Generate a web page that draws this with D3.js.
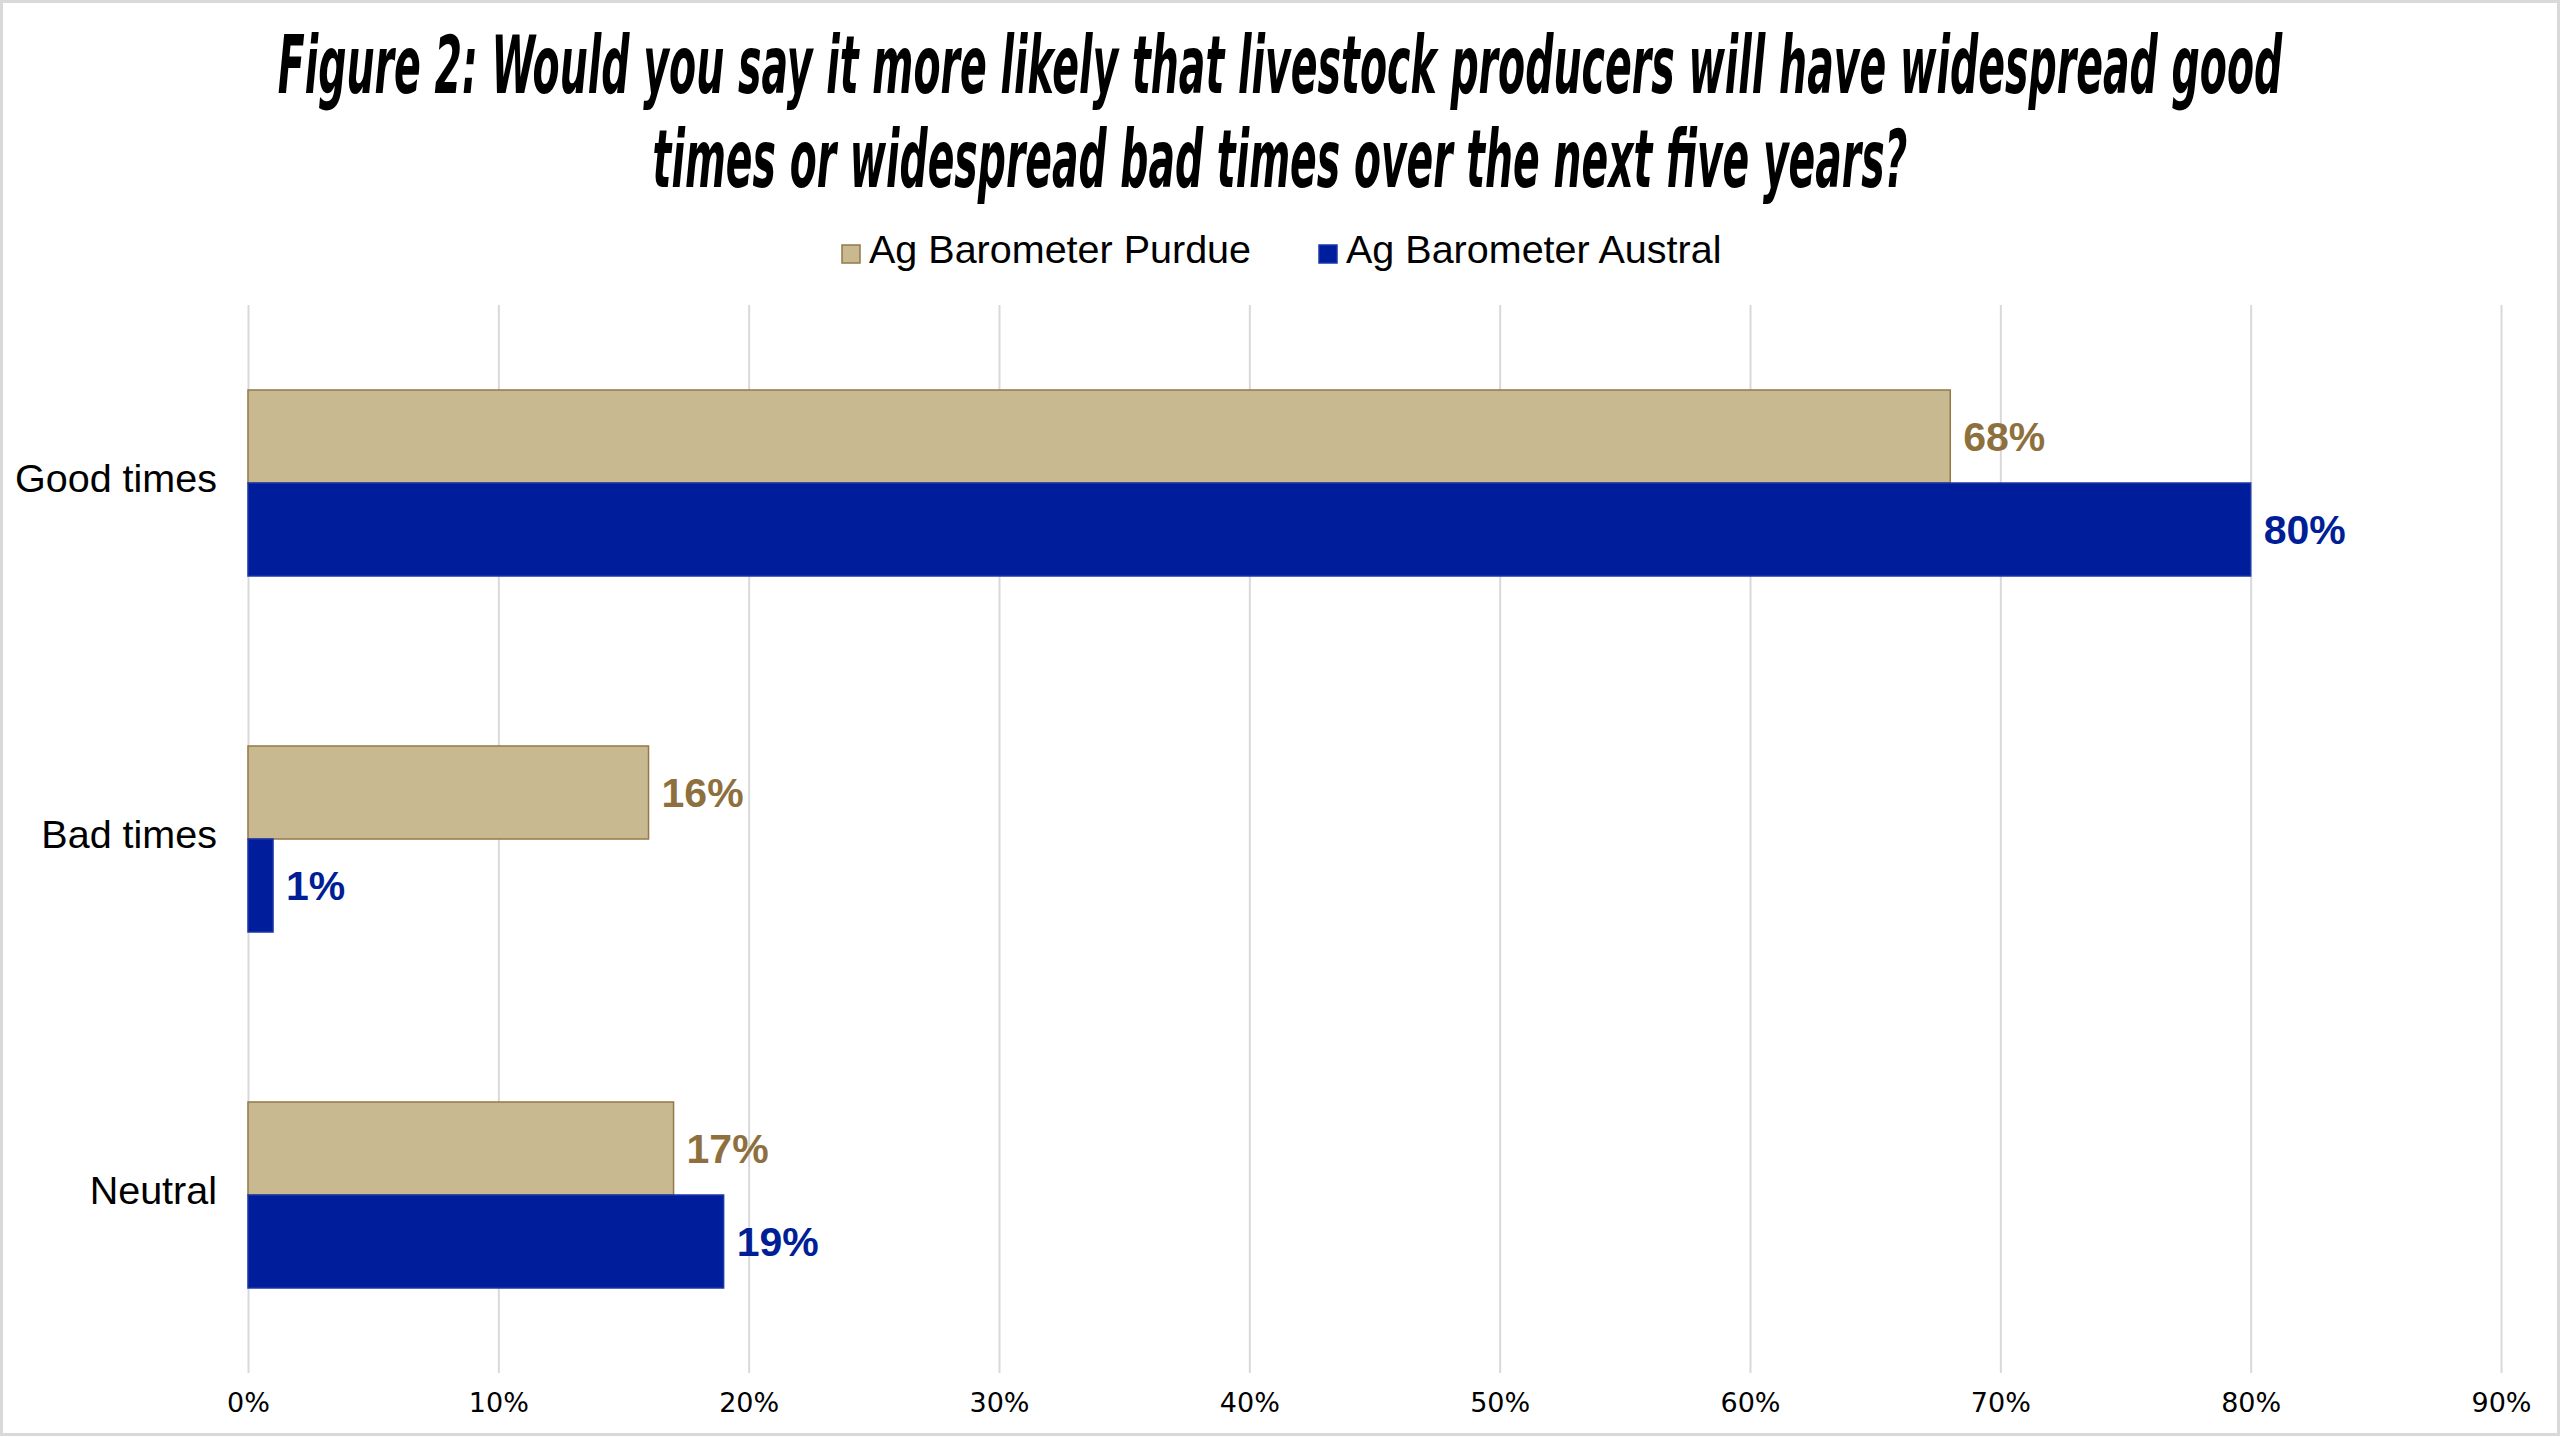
<!DOCTYPE html>
<html>
<head>
<meta charset="utf-8">
<script src="https://cdn.jsdelivr.net/npm/d3@7"></script>
<style>
  html, body { margin: 0; padding: 0; background: #fff; }
  svg { display: block; }
</style>
</head>
<body>
<svg id="chart" width="2560" height="1438"></svg>
<script>
// ---- data ----
const categories = ["Good times", "Bad times", "Neutral"];
const seriesNames = ["Ag Barometer Purdue", "Ag Barometer Austral"];
const purdueValues = [0.68, 0.16, 0.17];
const australValues = [0.80, 0.01, 0.19];
const xTicks = [0, 0.1, 0.2, 0.3, 0.4, 0.5, 0.6, 0.7, 0.8, 0.9];
const titleLines = [
  "Figure 2: Would you say it more likely that livestock producers will have widespread good",
  "times or widespread bad times over the next five years?"
];

const seriesValues = [purdueValues, australValues];
const fills = ["#C9B990", "#001E9C"];
const strokes = ["#94784A", "#1A36A8"];
const labelColors = ["#8E6F3E", "#001E96"];

const W = 2560, H = 1438;
const svg = d3.select("#chart");

// frame
svg.append("rect")
  .attr("x", 1.5).attr("y", 1.5)
  .attr("width", W - 3).attr("height", H - 5)
  .attr("fill", "#fff").attr("stroke", "#D9D9D9").attr("stroke-width", 3);

// scales
const plotTop = 305, plotBottom = 1373;
const x = d3.scaleLinear().domain([0, 0.9]).range([248, 2501]);
const y = d3.scaleBand().domain(categories).range([plotTop, plotBottom]).paddingInner(0).paddingOuter(0);
const ySub = d3.scaleBand().domain(seriesNames).range([0, y.bandwidth()]).paddingInner(0).paddingOuter(0.914);
const fmt = d3.format(".0%");

// gridlines + x axis labels
const xAxis = d3.axisBottom(x).tickValues(xTicks).tickFormat(fmt)
  .tickSizeInner(-(plotBottom - plotTop)).tickSizeOuter(0).tickPadding(20);
const gx = svg.append("g").attr("transform", `translate(0,${plotBottom})`).call(xAxis);
gx.select(".domain").remove();
gx.selectAll(".tick line").attr("stroke", "#D9D9D9").attr("stroke-width", 2);
gx.selectAll(".tick text")
  .attr("font-family", "'DejaVu Sans', sans-serif")
  .attr("font-size", 27)
  .attr("fill", "#000")
  .attr("dy", null)
  .attr("y", 39);

// y category labels
const gy = svg.append("g");
gy.selectAll("text").data(categories).join("text")
  .attr("x", 217)
  .attr("y", d => y(d) + y.bandwidth() / 2)
  .attr("dy", "0.22em")
  .attr("text-anchor", "end")
  .attr("font-family", "'Liberation Sans', Arial, sans-serif")
  .attr("font-size", 39.5)
  .attr("fill", "#000")
  .text(d => d);

// bars
const rows = [];
categories.forEach((c, i) => {
  seriesNames.forEach((s, j) => rows.push({ cat: c, ser: s, j, v: seriesValues[j][i] }));
});

svg.append("g").selectAll("rect").data(rows).join("rect")
  .attr("x", x(0))
  .attr("y", d => y(d.cat) + ySub(d.ser))
  .attr("width", d => x(d.v) - x(0))
  .attr("height", ySub.bandwidth())
  .attr("fill", d => fills[d.j])
  .attr("stroke", d => strokes[d.j])
  .attr("stroke-width", 1.5);

// data labels
svg.append("g").selectAll("text").data(rows).join("text")
  .attr("x", d => x(d.v) + 13)
  .attr("y", d => y(d.cat) + ySub(d.ser) + ySub.bandwidth() / 2)
  .attr("dy", "0.36em")
  .attr("font-family", "'Liberation Sans', Arial, sans-serif")
  .attr("font-weight", "bold")
  .attr("font-size", 41)
  .attr("fill", d => labelColors[d.j])
  .text(d => fmt(d.v));

// title (condensed by horizontal scaling to the reference width)
const titleBaselines = [93, 187];
const titleWidths = [2005, 1255];
const tg = svg.append("g");
titleLines.forEach((line, i) => {
  const t = tg.append("text")
    .attr("x", 0).attr("y", 0)
    .attr("text-anchor", "middle")
    .attr("font-family", "'DejaVu Sans Condensed', 'Liberation Sans Narrow', 'Liberation Sans', sans-serif")
    .attr("font-stretch", "condensed")
    .attr("font-weight", "bold")
    .attr("font-style", "italic")
    .attr("font-size", 80)
    .attr("fill", "#000")
    .text(line);
  const natural = t.node().getComputedTextLength();
  const sx = titleWidths[i] / natural;
  t.attr("transform", `translate(1280,${titleBaselines[i]}) scale(${sx},1)`);
});

// legend
const legendItems = [
  { name: seriesNames[0], sx: 842, tx: 869 },
  { name: seriesNames[1], sx: 1319, tx: 1346 }
];
const lg = svg.append("g");
legendItems.forEach((it, j) => {
  lg.append("rect")
    .attr("x", it.sx).attr("y", 245)
    .attr("width", 18).attr("height", 18)
    .attr("fill", fills[j]).attr("stroke", strokes[j]).attr("stroke-width", 1.5);
  lg.append("text")
    .attr("x", it.tx).attr("y", 263)
    .attr("font-family", "'Liberation Sans', Arial, sans-serif")
    .attr("font-size", 39.5)
    .attr("fill", "#000")
    .text(it.name);
});
</script>
</body>
</html>
